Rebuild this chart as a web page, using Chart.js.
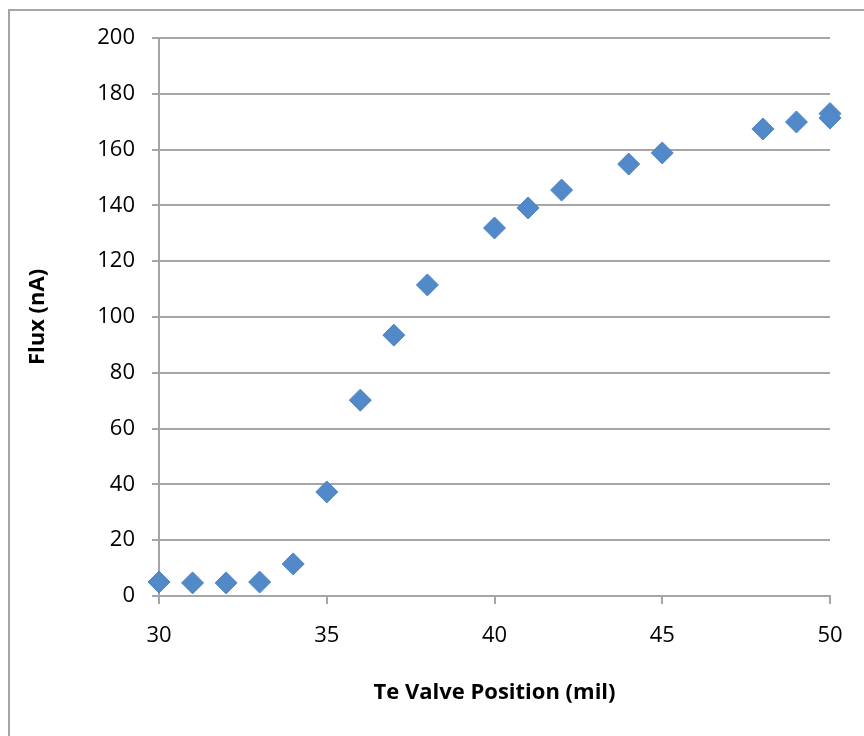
<!DOCTYPE html>
<html>
<head>
<meta charset="utf-8">
<script src="https://cdn.jsdelivr.net/npm/chart.js@4.4.0/dist/chart.umd.min.js"></script>
<style>
  html, body { margin: 0; padding: 0; background: #fff; }
  #wrap { position: relative; width: 864px; height: 736px; overflow: hidden; }
  #frame { position: absolute; left: 8px; top: 9px; width: 1000px; height: 1000px;
           border-left: 2px solid #a5a5a5; border-top: 2px solid #a5a5a5; }
  #grafico1 { position: absolute; left: 0; top: 0; }
</style>
</head>
<body>
<div id="wrap">
  <div id="frame"></div>
  <canvas id="grafico1" width="864" height="736"></canvas>
</div>
<script>
// valores
var posicoes = [30, 31, 32, 33, 34, 35, 36, 37, 38, 40, 41, 42, 44, 45, 48, 49, 50, 50];
var fluxo = [5.0, 4.7, 4.7, 5.0, 11.5, 37.3, 70.2, 93.5, 111.5, 131.9, 139.1, 145.5, 154.8, 158.8, 167.4, 169.9, 172.9, 171.3];
var ticksX = [30, 35, 40, 45, 50];
var ticksY = [0, 20, 40, 60, 80, 100, 120, 140, 160, 180, 200];

var pontos = new Array();
for (var i = 0; i < posicoes.length; i++) {
    pontos.push({ x: posicoes[i], y: fluxo[i] });
}

var fonte = "'Open Sans', sans-serif";
var cinza = "#a5a5a5";

var graf = document.getElementById("grafico1");
var scatterChart = new Chart(graf, {
    type: 'scatter',
    data: {
        datasets: [{
            label: "Flux",
            data: pontos,
            pointStyle: 'rectRot',
            pointRadius: 11,
            pointHoverRadius: 11,
            backgroundColor: "#5189c9",
            borderColor: "#4d84c3",
            borderWidth: 1,
            clip: false
        }]
    },
    options: {
        responsive: false,
        animation: false,
        layout: { padding: { top: 38, right: 34, left: 0, bottom: 0 } },
        plugins: {
            legend: { display: false },
            tooltip: { enabled: false }
        },
        scales: {
            x: {
                type: 'linear',
                min: 30,
                max: 50,
                afterBuildTicks: function (scale) {
                    scale.ticks = ticksX.map(function (v) { return { value: v }; });
                },
                afterFit: function (scale) { scale.height = 140; },
                grid: { drawOnChartArea: false, color: cinza, lineWidth: 2, tickLength: 8 },
                border: { color: cinza, width: 2 },
                ticks: { color: "#000", font: { family: fonte, size: 22 }, padding: 19, maxRotation: 0 },
                title: {
                    display: true,
                    text: "Te Valve Position (mil)",
                    color: "#000",
                    font: { family: fonte, size: 22, weight: 'bold' },
                    padding: { top: 0, bottom: 30 }
                }
            },
            y: {
                min: 0,
                max: 200,
                afterBuildTicks: function (scale) {
                    scale.ticks = ticksY.map(function (v) { return { value: v }; });
                },
                afterFit: function (scale) { scale.width = 159; },
                grid: { color: cinza, lineWidth: 2, tickLength: 7 },
                border: { color: cinza, width: 2 },
                ticks: { color: "#000", font: { family: fonte, size: 22 }, padding: 17 },
                title: {
                    display: true,
                    text: "Flux (nA)",
                    color: "#000",
                    font: { family: fonte, size: 22, weight: 'bold' },
                    padding: { top: 25, bottom: 0 }
                }
            }
        }
    }
});
</script>
</body>
</html>
